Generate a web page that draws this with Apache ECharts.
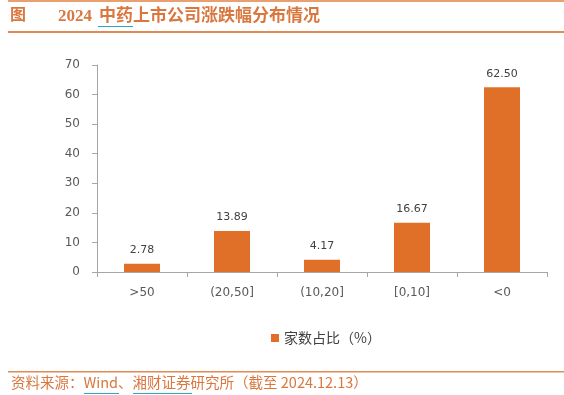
<!DOCTYPE html>
<html><head><meta charset="utf-8">
<script src="https://cdn.jsdelivr.net/npm/echarts@6/dist/echarts.min.js"></script>
<style>html,body{margin:0;padding:0;background:#fff}#c{width:564px;height:395px}</style>
</head><body><div id="c"></div>
<script>
const categories = ['>50', '(20,50]', '(10,20]', '[0,10]', '<0'];
const values = [2.78, 13.89, 4.17, 16.67, 62.50];
const seriesName = '家数占比（%）';
const yTicks = {min: 0, max: 70, interval: 10};
const titleYear = '2024';
const titleText = '中药上市公司涨跌幅分布情况';
const sourceText = '资料来源：Wind、湘财证券研究所（截至 2024.12.13）';

const orange = '#E07027';
const titleColor = '#D9773F';
const chart = echarts.init(document.getElementById('c'));
chart.setOption({
  animation: false,
  backgroundColor: '#fff',
  grid: {left: 97, right: 17, top: 65, bottom: 123},
  legend: {
    data: [seriesName], bottom: 45, left: 266,
    itemWidth: 8, itemHeight: 8, icon: 'rect', itemGap: 6,
    textStyle: {color: '#404040', fontSize: 14, fontFamily: 'Noto Sans CJK SC'}
  },
  xAxis: {
    type: 'category', data: categories,
    axisLine: {lineStyle: {color: '#A6A6A6', width: 1}},
    axisTick: {show: true, length: 5, lineStyle: {color: '#A6A6A6'}},
    axisLabel: {color: '#595959', fontSize: 12, fontFamily: 'DejaVu Sans', margin: 15}
  },
  yAxis: {
    type: 'value', min: yTicks.min, max: yTicks.max, interval: yTicks.interval,
    axisLine: {show: true, lineStyle: {color: '#A6A6A6'}},
    axisTick: {show: true, length: 5, lineStyle: {color: '#A6A6A6'}},
    splitLine: {show: false},
    axisLabel: {color: '#595959', fontSize: 12, fontFamily: 'DejaVu Sans', margin: 17}
  },
  series: [{
    name: seriesName, type: 'bar', data: values, barWidth: 36,
    itemStyle: {color: orange},
    label: {show: true, position: 'top', distance: 8, color: '#404040', fontSize: 11,
      fontFamily: 'DejaVu Sans', formatter: p => p.value.toFixed(2)}
  }],
  graphic: [
    {type: 'rect', shape: {x: 8, y: 0, width: 556, height: 2}, style: {fill: '#E8A070'}},
    {type: 'text', left: 10, top: 6, style: {text: '图', fill: titleColor, font: 'bold 16px "Noto Sans CJK SC"'}},
    {type: 'text', left: 58, top: 8, style: {text: titleYear, fill: titleColor, font: 'bold 17px "Liberation Serif"'}},
    {type: 'text', left: 99, top: 6, style: {text: titleText, fill: titleColor, font: 'bold 17px "Noto Sans CJK SC"'}},
    {type: 'rect', shape: {x: 98, y: 26, width: 35, height: 1}, style: {fill: '#2AA9C0'}},
    {type: 'rect', shape: {x: 8, y: 31, width: 556, height: 2}, style: {fill: '#E08A55'}},
    {type: 'rect', shape: {x: 8, y: 371, width: 556, height: 1.5}, style: {fill: '#E08A55'}},
    {type: 'text', left: 11, top: 375, style: {text: sourceText, fill: titleColor, font: '14.5px "Noto Sans CJK SC"'}},
    {type: 'rect', shape: {x: 84, y: 393, width: 35, height: 1}, style: {fill: '#2AA9C0'}},
    {type: 'rect', shape: {x: 133, y: 393, width: 59, height: 1}, style: {fill: '#2AA9C0'}}
  ]
});
</script></body></html>
